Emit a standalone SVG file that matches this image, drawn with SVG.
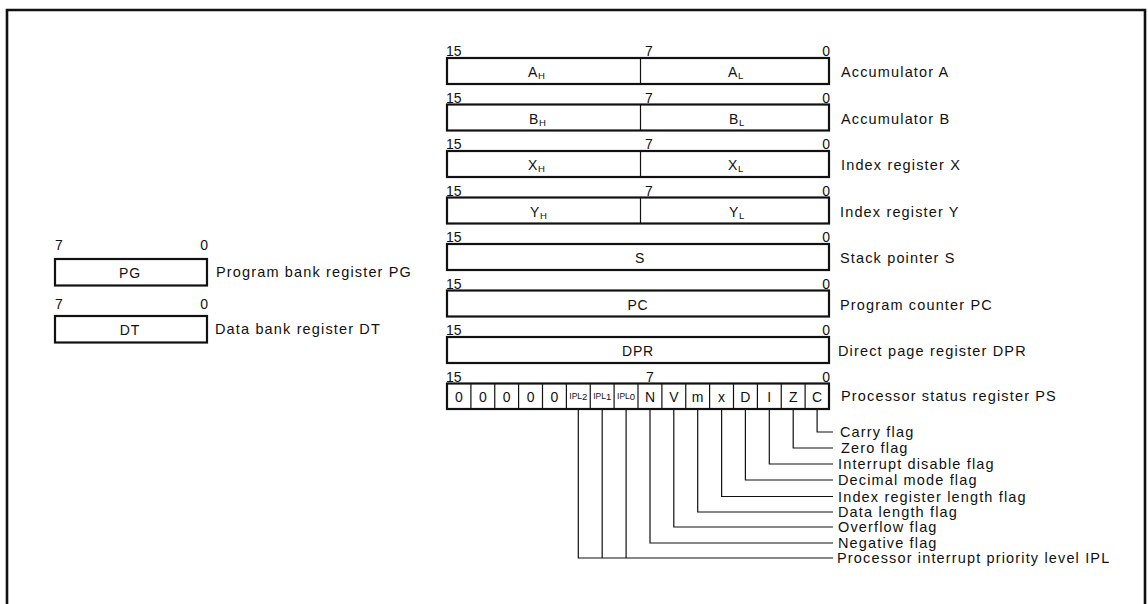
<svg xmlns="http://www.w3.org/2000/svg" width="1148" height="604" viewBox="0 0 1148 604">
<style>
text{font-family:"Liberation Sans",Arial,sans-serif;fill:#111}
.lbl{font-size:14.5px;letter-spacing:1.15px}
.bit{font-size:14px}
.bitr{font-size:14px;text-anchor:end}
.reg{font-size:14px;letter-spacing:0.6px}
.regc{font-size:14px;letter-spacing:0.8px;text-anchor:middle}
.cell{font-size:14px;text-anchor:middle}
.ipl{font-size:8.5px;text-anchor:middle}
.box{fill:#fff;stroke:#111;stroke-width:2.2}
.dv{stroke:#111;stroke-width:1.2}
.lead{fill:none;stroke:#111;stroke-width:1.2}
.frame{fill:none;stroke:#111;stroke-width:2.6}
</style>
<rect width="1148" height="604" fill="#fff"/>
<path class="frame" d="M7,604 V10 H1145 V604"/>

<g id="reg-a">
<text class="bit" x="446" y="56">15</text><text class="bit" x="645" y="56">7</text><text class="bitr" x="830" y="56">0</text>
<rect class="box" x="447" y="58" width="382" height="26"/>
<line class="dv" x1="640.5" y1="58" x2="640.5" y2="84"/>
<text class="reg" x="528" y="77">A<tspan font-size="9.5" dy="2">H</tspan></text>
<text class="reg" x="728" y="77">A<tspan font-size="9.5" dy="2">L</tspan></text>
<text class="lbl" x="841" y="77">Accumulator A</text>
</g>
<g id="reg-b">
<text class="bit" x="446" y="102.5">15</text><text class="bit" x="645" y="102.5">7</text><text class="bitr" x="830" y="102.5">0</text>
<rect class="box" x="447" y="104.5" width="382" height="26"/>
<line class="dv" x1="640.5" y1="104.5" x2="640.5" y2="130.5"/>
<text class="reg" x="529" y="123.5">B<tspan font-size="9.5" dy="2">H</tspan></text>
<text class="reg" x="729" y="123.5">B<tspan font-size="9.5" dy="2">L</tspan></text>
<text class="lbl" x="841" y="123.5">Accumulator B</text>
</g>
<g id="reg-x">
<text class="bit" x="446" y="149">15</text><text class="bit" x="645" y="149">7</text><text class="bitr" x="830" y="149">0</text>
<rect class="box" x="447" y="151" width="382" height="26"/>
<line class="dv" x1="640.5" y1="151" x2="640.5" y2="177"/>
<text class="reg" x="528" y="170">X<tspan font-size="9.5" dy="2">H</tspan></text>
<text class="reg" x="728" y="170">X<tspan font-size="9.5" dy="2">L</tspan></text>
<text class="lbl" x="841" y="170">Index register X</text>
</g>
<g id="reg-y">
<text class="bit" x="446" y="195.5">15</text><text class="bit" x="645" y="195.5">7</text><text class="bitr" x="830" y="195.5">0</text>
<rect class="box" x="447" y="197.5" width="382" height="26"/>
<line class="dv" x1="640.5" y1="197.5" x2="640.5" y2="223.5"/>
<text class="reg" x="530" y="216.5">Y<tspan font-size="9.5" dy="2">H</tspan></text>
<text class="reg" x="729" y="216.5">Y<tspan font-size="9.5" dy="2">L</tspan></text>
<text class="lbl" x="840" y="216.5">Index register Y</text>
</g>
<g id="reg-s">
<text class="bit" x="446" y="242">15</text><text class="bitr" x="830" y="242">0</text>
<rect class="box" x="447" y="244" width="382" height="26"/>
<text class="regc" x="640" y="263">S</text>
<text class="lbl" x="840" y="263">Stack pointer S</text>
</g>
<g id="reg-pc">
<text class="bit" x="446" y="288.5">15</text><text class="bitr" x="830" y="288.5">0</text>
<rect class="box" x="447" y="290.5" width="382" height="26"/>
<text class="regc" x="638" y="309.5">PC</text>
<text class="lbl" x="840" y="309.5">Program counter PC</text>
</g>
<g id="reg-dpr">
<text class="bit" x="446" y="335">15</text><text class="bitr" x="830" y="335">0</text>
<rect class="box" x="447" y="337" width="382" height="26"/>
<text class="regc" x="638" y="356">DPR</text>
<text class="lbl" x="838" y="356">Direct page register DPR</text>
</g>
<g id="reg-ps">
<text class="bit" x="446" y="381.5">15</text><text class="bit" x="646" y="381.5">7</text><text class="bitr" x="830" y="381.5">0</text>
<rect class="box" x="447" y="383.5" width="382" height="25.5"/>
<g class="dv">
<line x1="470.9" y1="383.5" x2="470.9" y2="409"/><line x1="494.75" y1="383.5" x2="494.75" y2="409"/>
<line x1="518.6" y1="383.5" x2="518.6" y2="409"/><line x1="542.5" y1="383.5" x2="542.5" y2="409"/>
<line x1="566.4" y1="383.5" x2="566.4" y2="409"/><line x1="590.25" y1="383.5" x2="590.25" y2="409"/>
<line x1="614.1" y1="383.5" x2="614.1" y2="409"/><line x1="638" y1="383.5" x2="638" y2="409"/>
<line x1="661.9" y1="383.5" x2="661.9" y2="409"/><line x1="685.75" y1="383.5" x2="685.75" y2="409"/>
<line x1="709.6" y1="383.5" x2="709.6" y2="409"/><line x1="733.5" y1="383.5" x2="733.5" y2="409"/>
<line x1="757.4" y1="383.5" x2="757.4" y2="409"/><line x1="781.25" y1="383.5" x2="781.25" y2="409"/>
<line x1="805.1" y1="383.5" x2="805.1" y2="409"/>
</g>
<text class="cell" x="458.9" y="401.5">0</text><text class="cell" x="482.8" y="401.5">0</text>
<text class="cell" x="506.7" y="401.5">0</text><text class="cell" x="530.6" y="401.5">0</text>
<text class="cell" x="554.4" y="401.5">0</text>
<text class="ipl" x="578.3" y="399">IPL<tspan font-size="9.5" dy="1">2</tspan></text>
<text class="ipl" x="602.2" y="399">IPL<tspan font-size="9.5" dy="1">1</tspan></text>
<text class="ipl" x="626.1" y="399">IPL<tspan font-size="9.5" dy="1">0</tspan></text>
<text class="cell" x="650" y="402" font-size="15">N</text><text class="cell" x="673.8" y="402" font-size="15">V</text>
<text class="cell" x="697.7" y="402" font-size="15">m</text><text class="cell" x="721.6" y="402" font-size="15">x</text>
<text class="cell" x="745.4" y="402" font-size="15">D</text><text class="cell" x="769.3" y="402" font-size="15">I</text>
<text class="cell" x="793.2" y="402" font-size="15">Z</text><text class="cell" x="817.1" y="402" font-size="15">C</text>
<text class="lbl" x="841" y="401">Processor status register PS</text>
</g>

<g id="reg-pg">
<text class="bit" x="55" y="250">7</text><text class="bitr" x="208" y="250">0</text>
<rect class="box" x="55" y="259" width="152" height="26.5"/>
<text class="regc" x="130" y="278">PG</text>
<text class="lbl" x="216" y="277">Program bank register PG</text>
</g>
<g id="reg-dt">
<text class="bit" x="55" y="309">7</text><text class="bitr" x="208" y="309">0</text>
<rect class="box" x="55" y="316" width="152" height="26.5"/>
<text class="regc" x="130" y="335">DT</text>
<text class="lbl" x="215" y="334">Data bank register DT</text>
</g>

<g id="connectors" class="lead">
<path d="M817.1,409 V432 H833"/>
<path d="M793.2,409 V448 H833"/>
<path d="M769.3,409 V464 H833"/>
<path d="M745.4,409 V480 H833"/>
<path d="M721.6,409 V496.5 H833"/>
<path d="M697.7,409 V512 H833"/>
<path d="M673.8,409 V527 H833"/>
<path d="M650,409 V543 H833"/>
<path d="M626.1,409 V558 M602.2,409 V558 M578.3,409 V558 H833"/>
</g>
<g id="flag-labels">
<text class="lbl" x="840" y="437">Carry flag</text>
<text class="lbl" x="841" y="453">Zero flag</text>
<text class="lbl" x="838" y="469">Interrupt disable flag</text>
<text class="lbl" x="838" y="485">Decimal mode flag</text>
<text class="lbl" x="838" y="501.5">Index register length flag</text>
<text class="lbl" x="838" y="517">Data length flag</text>
<text class="lbl" x="838" y="532">Overflow flag</text>
<text class="lbl" x="838" y="548">Negative flag</text>
<text class="lbl" x="837" y="563">Processor interrupt priority level IPL</text>
</g>
</svg>
